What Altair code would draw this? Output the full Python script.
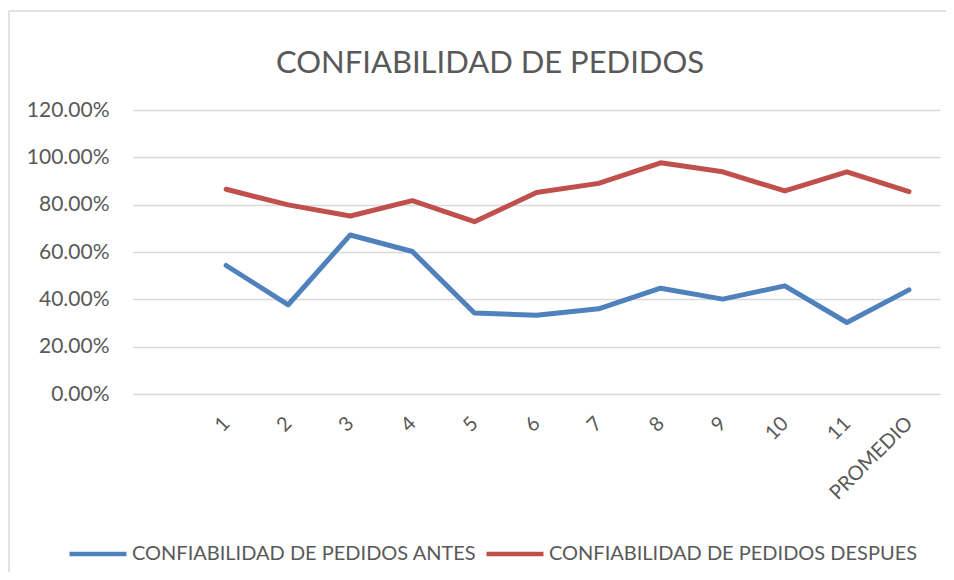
import altair as alt
import pandas as pd

categories = [" ", "1", "2", "3", "4", "5", "6", "7", "8", "9", "10", "11", "PROMEDIO"]
point_categories = ["1", "2", "3", "4", "5", "6", "7", "8", "9", "10", "11", "PROMEDIO"]
antes = [0.543, 0.377, 0.672, 0.602, 0.342, 0.333, 0.360, 0.447, 0.401, 0.457, 0.302, 0.440]
despues = [0.865, 0.799, 0.752, 0.817, 0.728, 0.851, 0.890, 0.977, 0.939, 0.858, 0.939, 0.855]
series_names = ["CONFIABILIDAD DE PEDIDOS ANTES", "CONFIABILIDAD DE PEDIDOS DESPUES"]
series_colors = ["#4f81bd", "#c0504d"]
title_text = "CONFIABILIDAD DE PEDIDOS"

rows = []
for c, v in zip(point_categories, antes):
    rows.append({"cat": c, "serie": series_names[0], "valor": v})
for c, v in zip(point_categories, despues):
    rows.append({"cat": c, "serie": series_names[1], "valor": v})
df = pd.DataFrame(rows)

FONT = "Lato"
TXT = "#595959"

lines = alt.Chart(df).mark_line(strokeWidth=5, strokeCap="round", strokeJoin="round").encode(
    x=alt.X("cat:N", sort=categories,
            scale=alt.Scale(domain=categories, type="point", padding=0.5),
            axis=alt.Axis(title=None, labelAngle=-45, labelAlign="right", labelBaseline="middle",
                          labelPadding=26, ticks=False, domain=False, grid=False,
                          labelFont=FONT, labelFontSize=20, labelColor=TXT)),
    y=alt.Y("valor:Q", scale=alt.Scale(domain=[0, 1.2], nice=False),
            axis=alt.Axis(title=None, format=".2%", values=[0, 0.2, 0.4, 0.6, 0.8, 1.0, 1.2],
                          ticks=False, domain=False, grid=True, gridColor="#d9d9d9", gridWidth=1.3,
                          labelPadding=24, labelFont=FONT, labelFontSize=21, labelColor=TXT)),
    color=alt.Color("serie:N", scale=alt.Scale(domain=series_names, range=series_colors),
                    legend=alt.Legend(title=None, orient="none", direction="horizontal",
                                      legendX=-66, legendY=413, symbolType="stroke",
                                      symbolSize=3249, symbolStrokeWidth=4.5,
                                      labelFont=FONT, labelFontSize=20, labelColor=TXT,
                                      labelLimit=0, labelOffset=3, columnPadding=0)),
)

border_top = alt.Chart(pd.DataFrame({"a": [0]})).mark_rule(
    stroke="#d9d9d9", strokeWidth=1.5
).encode(x=alt.value(-124), x2=alt.value(830), y=alt.value(-99))

border_left = alt.Chart(pd.DataFrame({"a": [0]})).mark_rule(
    stroke="#d9d9d9", strokeWidth=1.5
).encode(x=alt.value(-124), y=alt.value(-99), y2=alt.value(480))

title = alt.Chart(pd.DataFrame({"t": [title_text]})).mark_text(
    font=FONT, fontSize=31, color=TXT, align="center", baseline="alphabetic"
).encode(text="t:N", x=alt.value(357), y=alt.value(-37))

chart = alt.layer(border_top, border_left, lines, title).properties(
    width=807, height=284,
    background="white",
    autosize=alt.AutoSizeParams(type="none"),
    padding={"left": 125, "top": 102, "right": 6, "bottom": 178},
).configure_view(stroke="transparent", strokeWidth=0)

chart.save("out.html", embed_options={"renderer": "svg", "actions": False})
